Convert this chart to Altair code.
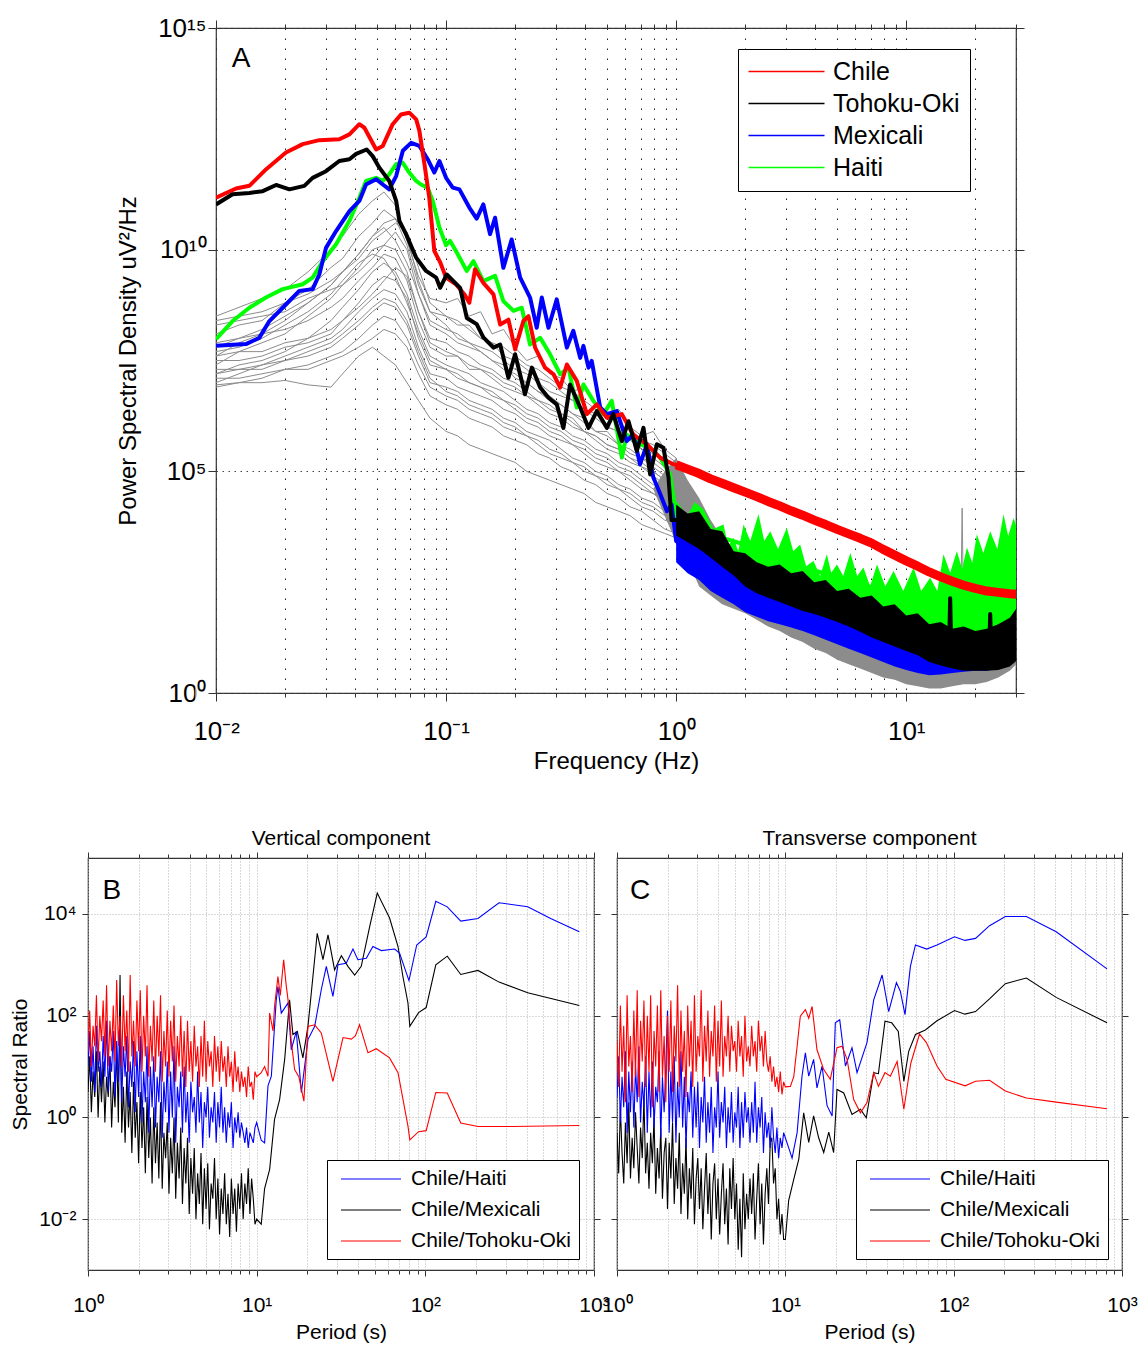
import altair as alt
import numpy as np
import pandas as pd

FONT = "Liberation Sans"

# ======================= Panel A : PSD  (values stored as log10) =======================
gray_logf = [-2.0, -1.9, -1.8, -1.7, -1.6, -1.5, -1.45, -1.38, -1.32, -1.27, -1.22, -1.17, -1.12, -1.07,
             -1.0, -0.95, -0.9, -0.85, -0.8, -0.75, -0.7, -0.65, -0.6, -0.55, -0.5, -0.45, -0.4, -0.35,
             -0.3, -0.25, -0.2, -0.15, -0.1, -0.05, 0.0]
gray_lines_logp = [
    [8.5, 8.7, 8.9, 9.1, 9.5, 10.0, 10.3, 10.8, 11.1, 11.3, 11.0, 10.2, 9.4, 8.9, 8.8, 8.9, 8.5, 8.6, 8.1, 8.2, 7.8, 7.5, 7.6, 7.2, 7.1, 6.8, 6.9, 6.5, 6.3, 6.4, 6.0, 5.8, 5.9, 5.5, 5.3],
    [8.1, 8.3, 8.4, 8.8, 9.1, 9.6, 9.8, 10.3, 10.6, 10.9, 10.7, 10.1, 9.2, 8.6, 8.5, 8.3, 8.3, 8.0, 7.9, 7.6, 7.5, 7.3, 7.1, 7.0, 6.8, 6.6, 6.4, 6.3, 6.0, 5.9, 5.8, 5.5, 5.4, 5.3, 5.1],
    [7.6, 7.9, 8.1, 8.4, 8.8, 9.2, 9.5, 9.9, 10.3, 10.5, 10.2, 9.7, 9.0, 8.3, 8.1, 7.9, 7.8, 7.7, 7.5, 7.4, 7.1, 7.0, 6.8, 6.7, 6.5, 6.3, 6.2, 5.9, 5.9, 5.6, 5.5, 5.3, 5.2, 5.0, 4.9],
    [7.4, 7.7, 7.9, 8.1, 8.5, 8.9, 9.2, 9.6, 10.0, 10.1, 10.0, 9.5, 8.6, 8.0, 7.9, 7.7, 7.6, 7.4, 7.3, 7.1, 7.0, 6.8, 6.6, 6.5, 6.3, 6.2, 5.9, 5.8, 5.6, 5.5, 5.3, 5.1, 5.0, 4.8, 4.7],
    [7.9, 8.0, 8.1, 8.2, 8.4, 8.7, 8.9, 9.3, 9.6, 9.9, 9.8, 9.3, 8.4, 7.8, 7.6, 7.6, 7.3, 7.3, 7.1, 6.9, 6.8, 6.7, 6.5, 6.3, 6.2, 6.0, 5.9, 5.7, 5.5, 5.4, 5.2, 5.1, 4.9, 4.7, 4.6],
    [7.2, 7.4, 7.5, 7.7, 8.0, 8.4, 8.7, 9.1, 9.5, 9.7, 9.5, 9.0, 8.2, 7.6, 7.4, 7.3, 7.2, 7.0, 6.9, 6.8, 6.6, 6.4, 6.3, 6.1, 6.0, 5.8, 5.7, 5.5, 5.4, 5.2, 5.1, 4.9, 4.7, 4.6, 4.4],
    [7.5, 7.5, 7.6, 7.8, 7.9, 8.1, 8.4, 8.8, 9.2, 9.4, 9.3, 8.9, 8.0, 7.4, 7.3, 7.1, 7.0, 6.9, 6.8, 6.6, 6.5, 6.3, 6.2, 6.0, 5.9, 5.7, 5.6, 5.4, 5.3, 5.1, 5.0, 4.8, 4.6, 4.5, 4.3],
    [7.0, 7.2, 7.4, 7.6, 7.8, 8.0, 8.2, 8.6, 8.9, 9.1, 9.0, 8.6, 7.8, 7.2, 7.1, 6.9, 6.8, 6.7, 6.6, 6.4, 6.3, 6.1, 6.0, 5.8, 5.7, 5.6, 5.4, 5.2, 5.1, 5.0, 4.8, 4.6, 4.5, 4.3, 4.2],
    [7.3, 7.3, 7.4, 7.5, 7.6, 7.8, 8.0, 8.3, 8.6, 8.8, 8.7, 8.3, 7.6, 7.0, 6.9, 6.8, 6.6, 6.5, 6.4, 6.2, 6.1, 5.9, 5.8, 5.7, 5.5, 5.3, 5.2, 5.0, 4.9, 4.7, 4.6, 4.4, 4.3, 4.1, 4.0],
    [6.9, 7.0, 7.1, 7.3, 7.4, 7.6, 7.7, 8.0, 8.3, 8.5, 8.4, 8.0, 7.4, 6.9, 6.7, 6.6, 6.4, 6.3, 6.2, 6.0, 5.9, 5.8, 5.6, 5.4, 5.3, 5.2, 5.0, 4.9, 4.7, 4.6, 4.4, 4.2, 4.1, 3.9, 3.8],
    [7.1, 7.1, 7.2, 7.3, 7.3, 7.5, 7.6, 7.8, 8.0, 8.2, 8.1, 7.8, 7.2, 6.7, 6.5, 6.4, 6.2, 6.1, 6.0, 5.8, 5.7, 5.6, 5.4, 5.3, 5.1, 5.0, 4.8, 4.7, 4.5, 4.4, 4.2, 4.1, 3.9, 3.7, 3.6],
    [6.95, 7.0, 7.0, 7.05, 6.95, 6.9, 7.2, 7.6, 7.8, 7.6, 7.4, 7.0, 6.6, 6.2, 5.9, 5.8, 5.6, 5.5, 5.4, 5.3, 5.2, 5.0, 4.9, 4.8, 4.7, 4.6, 4.5, 4.3, 4.2, 4.1, 4.0, 3.8, 3.7, 3.6, 3.5],
    [7.6, 7.7, 7.7, 7.9, 8.0, 8.2, 8.4, 8.7, 9.0, 9.3, 9.6, 9.4, 8.6, 7.9, 7.7, 7.6, 7.4, 7.3, 7.2, 7.0, 6.9, 6.7, 6.6, 6.4, 6.3, 6.1, 5.9, 5.8, 5.6, 5.5, 5.3, 5.2, 5.0, 4.8, 4.7],
    [8.3, 8.4, 8.5, 8.6, 8.9, 9.1, 9.2, 9.5, 9.8, 10.1, 10.4, 10.0, 9.0, 8.4, 8.2, 8.1, 7.9, 7.8, 7.7, 7.5, 7.3, 7.2, 7.0, 6.8, 6.7, 6.6, 6.4, 6.2, 6.0, 5.9, 5.7, 5.5, 5.3, 5.1, 5.0],
    [7.8, 8.0, 8.2, 8.5, 8.8, 9.2, 9.5, 9.9, 10.3, 10.6, 10.7, 10.3, 9.3, 8.6, 8.3, 8.0, 7.9, 7.7, 7.5, 7.3, 7.2, 7.0, 6.8, 6.6, 6.5, 6.3, 6.1, 5.9, 5.8, 5.6, 5.4, 5.3, 5.1, 4.9, 4.8],
    [7.2, 7.3, 7.3, 7.5, 7.7, 7.9, 8.1, 8.4, 8.7, 8.9, 8.8, 8.4, 7.7, 7.1, 6.8, 6.7, 6.5, 6.4, 6.3, 6.1, 6.0, 5.8, 5.7, 5.5, 5.4, 5.2, 5.1, 4.9, 4.8, 4.6, 4.5, 4.3, 4.2, 4.0, 3.9],
    [7.7, 7.8, 8.0, 8.3, 8.6, 9.0, 9.3, 9.7, 9.9, 9.8, 9.4, 8.8, 8.1, 7.5, 7.3, 7.2, 7.0, 6.9, 6.7, 6.6, 6.4, 6.2, 6.1, 5.9, 5.8, 5.6, 5.5, 5.3, 5.2, 5.0, 4.9, 4.7, 4.5, 4.4, 4.2],
    [8.4, 8.5, 8.6, 8.8, 9.0, 9.3, 9.5, 9.8, 10.2, 10.4, 10.6, 10.4, 9.6, 8.8, 8.5, 8.4, 8.2, 8.0, 7.9, 7.8, 7.6, 7.4, 7.3, 7.1, 6.9, 6.8, 6.6, 6.4, 6.3, 6.1, 5.9, 5.7, 5.6, 5.4, 5.2],
]
gray_spike_logf = [1.236, 1.243, 1.250]
gray_spike_logp = [1.4, 4.17, 1.4]

gray_band_logf = [-0.10, -0.05, 0.00, 0.05, 0.10, 0.15, 0.20, 0.25, 0.30, 0.35, 0.40, 0.45, 0.50, 0.55,
                  0.60, 0.65, 0.70, 0.75, 0.80, 0.85, 0.90, 0.95, 1.00, 1.05, 1.10, 1.15, 1.20, 1.25,
                  1.30, 1.35, 1.40, 1.45, 1.478]
gray_band_hi = [4.6, 5.0, 5.3, 4.8, 4.4, 3.9, 3.5, 3.1, 2.85, 2.7, 2.6, 2.5, 2.45, 2.4, 2.3, 2.2, 2.1,
                2.0, 1.9, 1.8, 1.7, 1.6, 1.5, 1.4, 1.3, 1.25, 1.2, 1.2, 1.2, 1.25, 1.4, 1.6, 1.75]
gray_band_lo = [4.6, 4.0, 3.4, 3.0, 2.4, 2.2, 2.0, 1.9, 1.8, 1.65, 1.5, 1.4, 1.25, 1.15, 1.0, 0.9, 0.75,
                0.65, 0.55, 0.45, 0.35, 0.3, 0.2, 0.15, 0.1, 0.1, 0.15, 0.2, 0.2, 0.25, 0.35, 0.5, 0.65]

# Chile (red)
chile_logf = [-2.0, -1.913, -1.855, -1.783, -1.696, -1.623, -1.551, -1.464, -1.420, -1.377, -1.355, -1.304,
              -1.275, -1.232, -1.196, -1.160, -1.130, -1.116, -1.094, -1.073, -1.051, -1.026, -1.0, -0.957,
              -0.920, -0.899, -0.874, -0.838, -0.794, -0.765, -0.729, -0.700, -0.664, -0.642, -0.613, -0.570,
              -0.533, -0.504, -0.475, -0.432, -0.388, -0.345, -0.301, -0.236, -0.186, -0.127, -0.070, -0.012]
chile_logp = [11.17, 11.38, 11.44, 11.81, 12.19, 12.38, 12.47, 12.49, 12.60, 12.83, 12.75, 12.26,
              12.34, 12.83, 13.05, 13.09, 12.94, 12.68, 11.93, 11.17, 9.97, 9.72, 9.37, 9.22,
              8.99, 8.80, 9.56, 9.25, 8.99, 8.31, 8.42, 7.75, 8.39, 8.50, 7.79, 7.34,
              7.19, 6.89, 7.41, 7.04, 6.29, 6.51, 6.21, 6.29, 5.83, 5.61, 5.31, 5.16]
hf_logf = [0.00, 0.05, 0.10, 0.15, 0.20, 0.25, 0.30, 0.35, 0.40, 0.45, 0.50, 0.55, 0.60, 0.65, 0.70,
           0.75, 0.80, 0.85, 0.90, 0.95, 1.00, 1.05, 1.10, 1.15, 1.20, 1.25, 1.30, 1.35, 1.40, 1.45, 1.478]
chile_hf_logp = [5.15, 5.05, 4.95, 4.83, 4.73, 4.63, 4.53, 4.43, 4.32, 4.22, 4.11, 4.01, 3.90, 3.80, 3.69,
                 3.59, 3.49, 3.38, 3.24, 3.11, 2.98, 2.86, 2.73, 2.62, 2.52, 2.43, 2.36, 2.30, 2.27, 2.24, 2.23]

# Tohoku-Oki (black)
tohoku_logf = [-2.0, -1.928, -1.855, -1.797, -1.739, -1.681, -1.616, -1.580, -1.522, -1.464, -1.420, -1.391,
               -1.345, -1.319, -1.290, -1.247, -1.217, -1.203, -1.174, -1.130, -1.087, -1.043, -1.026, -0.997,
               -0.939, -0.910, -0.867, -0.838, -0.794, -0.765, -0.729, -0.700, -0.657, -0.627, -0.591, -0.555,
               -0.519, -0.490, -0.461, -0.417, -0.381, -0.345, -0.301, -0.273, -0.236, -0.207, -0.171, -0.142,
               -0.113, -0.084, -0.055, -0.033, -0.02, 0.0, 0.05, 0.104, 0.2, 0.322, 0.45, 0.539, 0.683, 0.8,
               0.974, 1.117, 1.186, 1.191, 1.196, 1.265, 1.360, 1.365, 1.370, 1.409, 1.478]
tohoku_logp = [11.02, 11.25, 11.28, 11.32, 11.46, 11.36, 11.44, 11.62, 11.77, 12.0, 12.04, 12.16,
               12.26, 12.11, 11.85, 11.55, 11.10, 10.65, 10.35, 9.82, 9.52, 9.37, 9.14, 9.44,
               9.14, 8.46, 8.32, 8.02, 7.79, 7.86, 7.11, 7.64, 6.74, 7.34, 6.89, 6.66,
               6.51, 5.98, 6.96, 6.44, 5.98, 6.36, 5.98, 6.29, 5.68, 6.13, 5.46, 5.98,
               4.93, 5.61, 5.53, 4.86, 3.9, 3.9, 3.75, 3.61, 3.2, 2.68, 2.45, 2.3, 1.94, 1.75,
               1.44, 1.04, 1.0, 2.14, 1.0, 0.92, 0.92, 1.78, 0.92, 0.92, 1.28]
tohoku_hf_hi = [4.25, 4.05, 4.10, 3.70, 3.65, 3.20, 3.15, 2.95, 2.85, 2.90, 2.70, 2.75, 2.50, 2.55, 2.30,
                2.35, 2.15, 2.20, 1.95, 2.00, 1.75, 1.80, 1.55, 1.60, 1.45, 1.50, 1.40, 1.45, 1.55, 1.70, 1.90]
tohoku_hf_lo = [3.55, 3.40, 3.25, 3.05, 2.85, 2.65, 2.40, 2.25, 2.15, 2.05, 1.95, 1.85, 1.78, 1.70, 1.60,
                1.50, 1.38, 1.25, 1.15, 1.05, 0.95, 0.85, 0.70, 0.62, 0.55, 0.50, 0.50, 0.50, 0.52, 0.60, 0.72]

# Mexicali (blue)
mexicali_logf = [-2.0, -1.870, -1.812, -1.768, -1.710, -1.638, -1.580, -1.551, -1.522, -1.478, -1.420, -1.377,
                 -1.348, -1.304, -1.275, -1.247, -1.217, -1.188, -1.152, -1.116, -1.080, -1.051, -1.029, -1.0,
                 -0.971, -0.942, -0.899, -0.867, -0.838, -0.809, -0.787, -0.751, -0.715, -0.678, -0.635, -0.606,
                 -0.584, -0.555, -0.519, -0.475, -0.447, -0.417, -0.403, -0.381, -0.367, -0.330, -0.301, -0.258,
                 -0.215, -0.186, -0.157, -0.127, -0.099, -0.07, -0.04, -0.02, 0.0, 0.05, 0.104, 0.2, 0.322,
                 0.539, 0.757, 0.974, 1.117, 1.265, 1.409, 1.478]
mexicali_logp = [7.83, 7.87, 8.01, 8.39, 8.69, 9.07, 9.11, 9.44, 10.04, 10.42, 10.87, 11.10,
                 11.47, 11.59, 11.47, 11.36, 11.66, 12.23, 12.41, 12.34, 12.04, 11.74, 12.0, 11.62,
                 11.40, 11.36, 10.95, 10.70, 11.02, 10.35, 10.72, 9.59, 10.23, 9.37, 8.92, 8.24,
                 8.92, 8.24, 8.88, 7.79, 8.17, 7.56, 7.83, 7.34, 7.49, 6.44, 6.29, 6.36,
                 5.68, 5.83, 5.16, 5.61, 4.86, 4.5, 4.1, 4.25, 3.43, 3.2, 2.98, 2.5, 2.07,
                 1.74, 1.40, 0.95, 0.72, 0.72, 0.83, 1.17]
mexicali_hf_hi = [3.95, 3.80, 3.65, 3.45, 3.25, 3.05, 2.80, 2.65, 2.55, 2.45, 2.35, 2.25, 2.18, 2.10, 2.00,
                  1.90, 1.78, 1.65, 1.55, 1.45, 1.35, 1.25, 1.10, 1.02, 0.95, 0.90, 0.90, 0.92, 1.00, 1.15, 1.45]
mexicali_hf_lo = [2.95, 2.70, 2.55, 2.30, 2.15, 2.00, 1.82, 1.72, 1.62, 1.55, 1.48, 1.40, 1.30, 1.20, 1.10,
                  1.00, 0.90, 0.80, 0.70, 0.60, 0.52, 0.45, 0.40, 0.42, 0.45, 0.48, 0.50, 0.50, 0.55, 0.62, 0.75]

# Haiti (green)
haiti_logf = [-2.0, -1.928, -1.855, -1.783, -1.710, -1.623, -1.580, -1.536, -1.478, -1.420, -1.377, -1.348,
              -1.304, -1.275, -1.247, -1.217, -1.188, -1.160, -1.130, -1.109, -1.080, -1.058, -1.029, -1.0,
              -0.983, -0.957, -0.910, -0.881, -0.838, -0.787, -0.751, -0.707, -0.671, -0.635, -0.591, -0.548,
              -0.504, -0.468, -0.432, -0.403, -0.360, -0.316, -0.280, -0.236, -0.215, -0.157, -0.113, -0.070,
              -0.026, 0.0, 0.104, 0.322, 0.539, 0.757, 0.974, 1.117, 1.265, 1.409, 1.478]
haiti_logp = [7.98, 8.39, 8.69, 8.92, 9.11, 9.22, 9.37, 9.74, 10.12, 10.65, 11.17, 11.55,
              11.62, 11.55, 11.70, 11.93, 11.96, 11.74, 11.55, 11.47, 11.40, 11.10, 10.50, 10.10,
              10.20, 9.97, 9.52, 9.74, 9.29, 9.41, 8.84, 8.62, 8.69, 7.86, 8.01, 7.64,
              7.19, 7.34, 6.44, 6.96, 6.59, 6.29, 6.59, 5.31, 5.83, 5.61, 5.53, 5.31,
              4.93, 4.0, 3.65, 3.31, 2.86, 2.53, 2.19, 2.07, 2.30, 2.86, 2.98]
haiti_band_logf = [0.0, 0.05, 0.08, 0.119, 0.161, 0.206, 0.226, 0.249, 0.270, 0.293, 0.322, 0.358, 0.383,
                   0.409, 0.443, 0.481, 0.509, 0.539, 0.565, 0.597, 0.626, 0.655, 0.674, 0.699, 0.726,
                   0.757, 0.787, 0.814, 0.843, 0.873, 0.909, 0.945, 0.987, 1.032, 1.065, 1.104, 1.135,
                   1.162, 1.191, 1.220, 1.243, 1.264, 1.287, 1.307, 1.335, 1.365, 1.396, 1.423, 1.443,
                   1.467, 1.478]
haiti_band_hi = [4.33, 4.0, 4.3, 4.14, 3.70, 3.80, 3.31, 3.50, 3.20, 3.80, 3.43, 4.03, 3.43, 3.65, 3.25,
                 3.73, 3.20, 3.35, 2.86, 2.98, 2.64, 3.13, 2.71, 2.90, 2.64, 3.16, 2.64, 2.83, 2.41, 2.90,
                 2.41, 2.75, 2.30, 2.83, 2.30, 2.60, 2.30, 3.13, 2.71, 3.20, 2.80, 3.28, 2.93, 3.58, 3.16,
                 3.65, 3.25, 4.03, 3.54, 3.95, 3.77]
haiti_band_lo = [3.9, 3.75, 3.65, 3.55, 3.40, 3.25, 3.15, 3.05, 2.95, 2.85, 2.75, 2.65, 2.60, 2.55, 2.45,
                 2.40, 2.35, 2.30, 2.25, 2.20, 2.15, 2.10, 2.05, 2.00, 1.95, 1.90, 1.85, 1.80, 1.75, 1.70,
                 1.60, 1.55, 1.45, 1.35, 1.25, 1.15, 1.10, 1.05, 1.05, 1.00, 1.00, 1.00, 1.00, 1.00, 1.00,
                 1.00, 1.05, 1.10, 1.20, 1.25, 1.30]

A_events = ["Chile", "Tohoku-Oki", "Mexicali", "Haiti"]
A_colors = ["#ff0000", "#000000", "#0000ff", "#00ff00"]
A_x_decades = [-2, -1, 0, 1]
A_y_decades = [0, 5, 10, 15]
A_panel_label = ("A", -1.891, 14.30)

# ======================= Panels B, C : spectral ratios (log10) =======================
noisy_logT = [0.00, 0.01, 0.02, 0.03, 0.04, 0.05, 0.06, 0.07, 0.08, 0.09,
              0.10, 0.11, 0.12, 0.13, 0.14, 0.15, 0.16, 0.17, 0.18, 0.19,
              0.20, 0.21, 0.22, 0.23, 0.24, 0.25, 0.26, 0.27, 0.28, 0.29,
              0.30, 0.31, 0.32, 0.33, 0.34, 0.35, 0.36, 0.37, 0.38, 0.39,
              0.40, 0.41, 0.42, 0.43, 0.44, 0.45, 0.46, 0.47, 0.48, 0.49,
              0.50, 0.51, 0.52, 0.53, 0.54, 0.55, 0.56, 0.57, 0.58, 0.59,
              0.60, 0.61, 0.62, 0.63, 0.64, 0.65, 0.66, 0.67, 0.68, 0.69,
              0.70, 0.71, 0.72, 0.73, 0.74, 0.75, 0.76, 0.77, 0.78, 0.79,
              0.80, 0.81, 0.82, 0.83, 0.84, 0.85, 0.86, 0.87, 0.88, 0.89,
              0.90, 0.91, 0.92, 0.93, 0.94, 0.95, 0.96, 0.97, 0.98, 0.99, 1.00]

B_tohoku_noisy = [1.3, 2.1, 1.0, 1.8, 1.4, 2.4, 1.1, 2.0, 1.5, 2.3,
                  1.2, 2.6, 1.0, 1.9, 1.3, 2.2, 1.1, 2.7, 1.4, 2.0,
                  1.0, 2.4, 1.3, 2.1, 0.9, 2.8, 1.2, 1.9, 1.0, 2.3,
                  1.3, 2.5, 0.9, 2.0, 1.2, 2.6, 0.8, 1.8, 1.1, 2.3,
                  0.9, 2.0, 1.2, 2.4, 0.7, 1.7, 1.0, 2.1, 0.8, 1.9,
                  1.1, 2.2, 0.7, 1.6, 1.0, 2.0, 0.8, 1.7, 0.6, 1.9,
                  0.9, 1.5, 0.7, 1.8, 1.0, 1.4, 0.6, 1.6, 0.8, 1.9,
                  0.7, 1.5, 1.0, 1.3, 0.6, 1.6, 0.9, 1.4, 0.7, 1.5,
                  0.9, 1.2, 0.6, 1.4, 0.8, 1.1, 0.5, 1.3, 0.7, 1.0,
                  0.5, 0.9, 0.6, 0.8, 0.4, 1.0, 0.6, 0.7, 0.35, 0.9, 0.8]
B_tohoku_tail_logT = [1.027, 1.047, 1.067, 1.077, 1.097, 1.106, 1.126, 1.14, 1.160, 1.175, 1.186, 1.205, 1.225,
                      1.250, 1.280, 1.304, 1.344, 1.383, 1.452, 1.512, 1.561, 1.585, 1.610, 1.660, 1.709, 1.788,
                      1.838, 1.897, 1.908, 1.960, 2.005, 2.062, 2.130, 2.210, 2.312, 2.516, 2.913]
B_tohoku_tail = [0.88, 1.0, 0.81, 2.05, 1.7, 2.18, 2.77, 2.4, 3.10, 2.6, 2.31, 1.5, 0.94,
                 0.8, 0.32, 1.79, 1.82, 1.66, 0.71, 1.57, 1.54, 1.6, 1.82, 1.27, 1.35, 1.17,
                 0.88, -0.17, -0.44, -0.28, -0.26, 0.49, 0.48, -0.11, -0.18, -0.18, -0.16]
B_haiti_noisy = [1.0, 1.7, 0.7, 1.4, 0.5, 1.8, 0.9, 1.3, 0.6, 1.6,
                 0.8, 1.9, 0.5, 1.2, 0.9, 1.7, 0.4, 1.5, 0.7, 1.8,
                 0.3, 1.4, 0.8, 1.6, 0.2, 1.1, 0.6, 1.5, 0.1, 1.3,
                 0.4, 1.6, -0.1, 0.9, 0.3, 1.4, -0.3, 1.0, 0.2, 1.2,
                 -0.2, 0.8, 0.3, 1.3, -0.4, 0.7, 0.1, 1.1, -0.3, 0.9,
                 0.0, 1.4, -0.5, 0.6, 0.2, 0.9, -0.3, 1.0, -0.1, 0.5,
                 -0.5, 0.7, 0.1, 0.4, -0.3, 0.9, -0.1, 0.5, -0.6, 0.3,
                 0.0, 0.6, -0.4, 0.2, -0.1, 0.5, -0.5, 0.3, -0.2, 0.6,
                 -0.3, 0.2, -0.5, 0.1, -0.2, 0.3, -0.6, 0.0, -0.3, 0.1,
                 -0.4, -0.1, -0.3, -0.5, -0.2, -0.6, -0.3, -0.4, -0.5, -0.2, -0.1]
B_haiti_tail_logT = [1.027, 1.047, 1.067, 1.087, 1.116, 1.126, 1.146, 1.186, 1.205, 1.235, 1.265, 1.304, 1.344,
                     1.383, 1.413, 1.452, 1.482, 1.531, 1.571, 1.600, 1.650, 1.689, 1.739, 1.818, 1.847, 1.903,
                     1.949, 2.005, 2.062, 2.130, 2.210, 2.312, 2.437, 2.607, 2.743, 2.913]
B_haiti_tail = [-0.45, -0.5, 0.62, 0.81, 2.31, 2.57, 2.05, 2.25, 1.33, 1.69, 0.49, 1.53, 1.79,
                2.51, 2.97, 2.38, 3.0, 3.03, 3.31, 3.10, 3.13, 3.36, 3.28, 3.31, 3.23, 2.69,
                3.39, 3.55, 4.25, 4.14, 3.86, 3.91, 4.22, 4.14, 3.91, 3.65]
B_mexicali_noisy = [0.5, 1.2, 0.1, 0.9, 0.4, 1.3, 0.0, 1.0, 0.3, 1.1,
                    -0.1, 0.8, 0.4, 1.2, -0.2, 0.7, 0.2, 1.4, -0.1, 2.8,
                    -0.3, 0.6, -0.5, 0.9, -0.2, 0.5, -0.7, 0.7, -0.4, 0.3,
                    -0.9, 0.5, -0.6, 0.2, -1.1, 0.4, -0.8, 0.0, -1.3, 0.2,
                    -0.9, -0.1, -1.2, 0.3, -1.4, -0.3, -0.8, -0.1, -1.5, -0.4,
                    -1.1, 0.0, -1.6, -0.5, -1.2, -0.2, -1.7, -0.6, -1.3, -0.4,
                    -1.9, -0.8, -1.5, -0.6, -2.0, -1.1, -1.7, -0.7, -2.1, -1.0,
                    -1.8, -0.9, -2.2, -1.3, -1.6, -0.8, -2.0, -1.2, -2.3, -1.4,
                    -1.9, -1.1, -2.1, -1.5, -2.35, -1.2, -1.9, -1.4, -2.25, -1.3,
                    -1.8, -1.1, -2.0, -1.3, -1.7, -1.0, -1.9, -1.2, -1.6, -2.1, -2.0]
B_mexicali_tail_logT = [1.027, 1.047, 1.077, 1.106, 1.136, 1.166, 1.195, 1.215, 1.241, 1.274, 1.304, 1.324, 1.359,
                        1.393, 1.423, 1.462, 1.502, 1.541, 1.581, 1.620, 1.670, 1.715, 1.788, 1.838, 1.867, 1.897,
                        1.908, 1.960, 2.005, 2.062, 2.130, 2.210, 2.312, 2.437, 2.607, 2.913]
B_mexicali_tail = [-2.1, -1.4, -1.02, -0.04, 0.35, 1.14, 2.31, 1.63, 1.69, 1.17, 1.79, 2.45, 3.62,
                   3.10, 3.59, 2.90, 3.18, 2.97, 2.80, 2.97, 3.75, 4.41, 3.92, 3.36, 2.77, 2.25,
                   1.79, 2.06, 2.16, 3.0, 3.17, 2.81, 2.89, 2.66, 2.45, 2.20]

C_tohoku_noisy = [1.5, 0.6, 2.2, 0.9, 1.8, 0.3, 2.4, 1.0, 1.6, 0.5,
                  2.1, 0.8, 2.5, 0.4, 1.9, 1.1, 2.3, 0.6, 2.0, 0.9,
                  2.4, 0.2, 1.7, 1.0, 2.2, 0.5, 2.5, 0.8, 1.6, 0.3,
                  2.0, 0.9, 2.3, 0.5, 1.8, 1.1, 2.6, 0.6, 2.1, 0.9,
                  1.7, 0.4, 2.2, 1.0, 1.9, 0.6, 2.4, 0.9, 1.6, 1.2,
                  2.5, 0.7, 1.8, 1.1, 2.1, 0.8, 1.7, 1.2, 2.2, 0.7,
                  1.9, 1.0, 2.3, 0.8, 1.6, 1.2, 2.0, 0.9, 1.8, 1.3,
                  1.5, 0.9, 1.9, 1.2, 1.6, 0.8, 2.0, 1.1, 1.4, 1.0,
                  1.8, 1.2, 1.5, 0.9, 1.9, 1.3, 1.6, 1.0, 1.7, 1.1,
                  0.9, 1.2, 0.7, 1.0, 0.6, 0.8, 0.5, 0.9, 0.45, 0.7, 0.6]
C_tohoku_tail_logT = [1.030, 1.050, 1.070, 1.089, 1.119, 1.139, 1.159, 1.188, 1.228, 1.267, 1.307, 1.337, 1.367,
                      1.406, 1.446, 1.485, 1.525, 1.553, 1.592, 1.624, 1.664, 1.704, 1.745, 1.797, 1.838, 1.901,
                      1.953, 2.068, 2.130, 2.213, 2.307, 2.432, 2.609, 2.911]
C_tohoku_tail = [0.61, 0.8, 1.40, 1.99, 2.12, 1.95, 2.18, 1.33, 0.94, 0.75, 1.37, 1.40, 1.14,
                 0.35, 0.09, 0.29, 0.88, 0.61, 0.88, 0.81, 1.10, 0.16, 1.06, 1.64, 1.47, 1.01,
                 0.75, 0.62, 0.71, 0.73, 0.52, 0.38, 0.30, 0.17]
C_haiti_noisy = [0.4, 1.2, -0.1, 0.8, 0.2, 1.3, -0.3, 0.9, 0.1, 1.1,
                 -0.2, 1.0, 0.3, 1.4, -0.1, 0.7, 0.2, 1.2, -0.3, 0.9,
                 0.0, 1.1, -0.2, 0.6, 0.3, 1.3, -0.4, 0.8, 0.1, 1.0,
                 2.1, -0.3, 0.9, -0.1, 1.2, -0.5, 0.7, 0.0, 1.3, -0.2,
                 0.8, -0.6, 0.5, 0.1, 0.9, -0.4, 0.6, -0.2, 0.7, -0.6,
                 0.4, -0.1, 0.8, -0.5, 0.3, -0.3, 0.6, -0.7, 0.2, -0.2,
                 0.9, -0.4, 0.3, -0.1, 0.6, -0.6, 0.2, -0.3, 0.5, -0.5,
                 0.1, -0.2, 0.6, -0.6, 0.3, -0.4, 0.5, -0.1, 0.2, -0.5,
                 0.3, -0.3, 0.7, -0.5, 0.2, -0.2, 0.4, -0.7, 0.1, -0.4,
                 -0.1, -0.6, 0.2, -0.4, -0.7, -0.2, -0.8, -0.4, -0.6, -0.3, -0.4]
C_haiti_tail_logT = [1.020, 1.040, 1.070, 1.099, 1.119, 1.139, 1.168, 1.188, 1.218, 1.248, 1.278, 1.297, 1.323,
                     1.357, 1.396, 1.426, 1.485, 1.525, 1.575, 1.614, 1.660, 1.683, 1.711, 1.743, 1.773, 1.840,
                     1.901, 2.005, 2.067, 2.130, 2.213, 2.307, 2.432, 2.609, 2.911]
C_haiti_tail = [-0.6, -0.8, -0.30, 0.81, 1.27, 0.81, 1.14, 0.58, 1.01, 0.23, 0.03, 1.86, 1.92,
                1.01, 1.37, 0.88, 1.47, 2.31, 2.80, 2.08, 2.65, 2.48, 2.02, 2.97, 3.39, 3.31,
                3.39, 3.55, 3.48, 3.52, 3.77, 3.95, 3.95, 3.65, 2.92]
C_mexicali_noisy = [-0.3, -1.1, 0.2, -0.7, -1.3, -0.1, -0.9, 0.3, -1.2, -0.4,
                    -1.0, 0.1, -0.6, -1.3, -0.2, -0.8, 0.4, -1.1, -0.5, -1.4,
                    -0.3, -0.9, 0.0, -1.5, -0.6, -1.2, -0.2, -1.6, -0.7, -0.4,
                    -1.8, -0.5, -1.2, -0.1, -1.7, -0.8, -1.4, -0.3, -1.9, -0.9,
                    -1.5, -0.4, -2.0, -1.0, -1.6, -0.6, -2.1, -1.2, -0.8, -1.8,
                    -1.0, -2.2, -1.4, -0.7, -1.9, -1.1, -2.4, -1.3, -0.9, -2.0,
                    -1.2, -2.3, -1.5, -0.9, -2.1, -1.4, -2.5, -1.0, -1.8, -0.8,
                    -2.0, -1.3, -2.6, -1.6, -2.75, -1.1, -2.2, -1.5, -2.0, -1.2,
                    -1.9, -1.1, -2.4, -1.6, -0.9, -2.1, -1.3, -2.5, -1.5, -1.0,
                    -1.7, -0.5, -0.4, -1.3, -1.0, -2.0, -1.6, -2.3, -1.9, -2.4, -2.4]
C_mexicali_tail_logT = [1.020, 1.050, 1.080, 1.109, 1.139, 1.168, 1.198, 1.228, 1.258, 1.287, 1.307, 1.347, 1.396,
                        1.446, 1.481, 1.525, 1.553, 1.592, 1.632, 1.671, 1.704, 1.733, 1.773, 1.832, 1.901, 2.005,
                        2.067, 2.130, 2.213, 2.307, 2.432, 2.609, 2.911]
C_mexicali_tail = [-1.63, -1.22, -0.82, 0.09, -0.49, 0.03, -0.40, -0.69, -0.29, -0.69, 0.55, 0.48, 0.06,
                   0.16, -0.01, 0.88, 0.86, 1.89, 1.86, 1.69, 0.71, 1.30, 1.63, 1.72, 1.90, 2.10,
                   2.03, 2.08, 2.33, 2.63, 2.74, 2.36, 1.86]

R_pairs = ["Chile/Haiti", "Chile/Mexicali", "Chile/Tohoku-Oki"]
R_colors = ["#0000ff", "#000000", "#ff0000"]
R_x_decades = [0, 1, 2, 3]
R_y_decades = [-2, 0, 2, 4]
B_panel_label = ("B", 0.142, 4.45)
C_panel_label = ("C", 0.137, 4.45)

# ======================= helpers =======================
SUP = str.maketrans("-0123456789", "⁻⁰¹²³⁴⁵⁶⁷⁸⁹")
MAJOR = "abs(log(datum.value)/LN10 - round(log(datum.value)/LN10)) < 0.01"


def label_expr(decades):
    expr = "''"
    for d in reversed(decades):
        expr = f"(abs(log(datum.value)/LN10 - ({d})) < 0.01 ? '10{str(d).translate(SUP)}' : {expr})"
    return expr


def log_ticks(decades, top):
    return [m * 10.0 ** d for d in decades for m in range(1, 10) if m * 10.0 ** d <= top * 1.0001]


def tick_cond(major, minor):
    return {"condition": {"test": MAJOR, "value": major}, "value": minor}


def pw(v):
    return np.power(10.0, np.array(v, dtype=float))


# ======================= Panel A =======================
gray_df = pd.concat(
    [pd.DataFrame({"f": pw(gray_logf), "p": pw(lp), "id": f"g{i}"}) for i, lp in enumerate(gray_lines_logp)]
    + [pd.DataFrame({"f": pw(gray_spike_logf), "p": pw(gray_spike_logp), "id": "spike"})],
    ignore_index=True)
gray_band_df = pd.DataFrame({"f": pw(gray_band_logf), "lo": pw(gray_band_lo), "hi": pw(gray_band_hi)})


def ev_df(lf, lp, name):
    return pd.DataFrame({"f": pw(lf), "p": pw(lp), "event": name})


def band_df(lf, lo, hi):
    return pd.DataFrame({"f": pw(lf), "lo": pw(lo), "hi": pw(hi)})


XA = alt.Scale(type="log", domain=[0.01, 30], nice=False)
YA = alt.Scale(type="log", domain=[1, 1e15], nice=False)
A_xvals = log_ticks(A_x_decades, 30)
A_yvals = [10.0 ** d for d in A_y_decades]

ax_A_x = alt.Axis(values=A_xvals, labelExpr=label_expr(A_x_decades), tickSize=tick_cond(8, 4),
                  tickColor="#333", grid=True, gridColor="#222", gridDash=[1.5, 8.5], gridWidth=1,
                  domain=False, labelFont=FONT, labelFontSize=26, labelColor="black", labelPadding=17,
                  labelOverlap=False, labelFlush=False, title="Frequency (Hz)", titleFont=FONT,
                  titleFontSize=24, titleFontWeight="normal", titleColor="black", titlePadding=5)
ax_A_y = alt.Axis(values=A_yvals, labelExpr=label_expr(A_y_decades), tickSize=8, tickColor="#333",
                  grid=True, gridColor="#444", gridDash=[1.5, 4.5], domain=False, labelFont=FONT,
                  labelFontSize=26, labelColor="black", labelPadding=2, labelOverlap=False,
                  title="Power Spectral Density uV²/Hz", titleFont=FONT, titleFontSize=24,
                  titleFontWeight="normal", titleColor="black", titlePadding=17)
ax_A_top = alt.Axis(orient="top", values=A_xvals, labels=False, tickSize=tick_cond(8, 4), tickColor="#333",
                    grid=False, domain=False, title=None)
ax_A_right = alt.Axis(orient="right", values=A_yvals, labels=False, tickSize=8, tickColor="#333",
                      grid=False, domain=False, title=None)

colA = alt.Scale(domain=A_events, range=A_colors)
legA = alt.Legend(title=None, orient="none", legendX=522, legendY=21, symbolType="M-3.8,0L3.8,0",
                  symbolSize=400, symbolStrokeWidth=1.5, symbolOffset=26, labelOffset=34,
                  labelFont=FONT, labelFontSize=25, labelColor="black", padding=10, rowPadding=6,
                  strokeColor="black", fillColor="white", labelLimit=400)


def A_line(df, width=4):
    return alt.Chart(df).mark_line(strokeWidth=width, clip=True, strokeJoin="round").encode(
        x=alt.X("f:Q", scale=XA, axis=None), y=alt.Y("p:Q", scale=YA, axis=None),
        color=alt.Color("event:N", scale=colA, legend=legA))


def A_band(df, color):
    return alt.Chart(df).mark_area(color=color, clip=True).encode(
        x=alt.X("f:Q", scale=XA, axis=None), y=alt.Y("lo:Q", scale=YA, axis=None), y2="hi:Q")


layer_gray = alt.Chart(gray_df).mark_line(color="#8c8c8c", strokeWidth=1, clip=True).encode(
    x=alt.X("f:Q", scale=XA, axis=ax_A_x), y=alt.Y("p:Q", scale=YA, axis=ax_A_y), detail="id:N")
layer_mirror_A = alt.Chart(gray_df).mark_line(strokeOpacity=0).encode(
    x=alt.X("f:Q", scale=XA, axis=ax_A_top), y=alt.Y("p:Q", scale=YA, axis=ax_A_right), detail="id:N")
label_A = alt.Chart(pd.DataFrame({"f": pw([A_panel_label[1]]), "p": pw([A_panel_label[2]]),
                                  "t": [A_panel_label[0]]})).mark_text(
    font=FONT, fontSize=28, color="black").encode(
    x=alt.X("f:Q", scale=XA, axis=None), y=alt.Y("p:Q", scale=YA, axis=None), text="t:N")
# invisible white rule: fixes the top and bottom extent of panel A for the layout
anchor_A = alt.Chart(pd.DataFrame({"a": [0]})).mark_rule(color="white").encode(
    x=alt.value(-20), y=alt.value(-26), y2=alt.value(765))

chartA = alt.layer(
    layer_gray,
    A_band(gray_band_df, "#8c8c8c"),
    A_band(band_df(haiti_band_logf, haiti_band_lo, haiti_band_hi), "#00ff00"),
    A_line(ev_df(haiti_logf, haiti_logp, "Haiti")),
    A_band(band_df(hf_logf, mexicali_hf_lo, mexicali_hf_hi), "#0000ff"),
    A_line(ev_df(mexicali_logf, mexicali_logp, "Mexicali")),
    A_line(ev_df(chile_logf + hf_logf, chile_logp + chile_hf_logp, "Chile")),
    A_line(ev_df(hf_logf, chile_hf_logp, "Chile"), width=9),
    A_band(band_df(hf_logf, tohoku_hf_lo, tohoku_hf_hi), "#000000"),
    A_line(ev_df(tohoku_logf, tohoku_logp, "Tohoku-Oki")),
    layer_mirror_A,
    label_A,
    anchor_A,
).resolve_axis(x="independent", y="independent").properties(width=800, height=665)

# blank spacer that shifts panel A to the right of panels B/C
spacer = alt.Chart(pd.DataFrame({"a": [0]})).mark_point(opacity=0).encode(
    x=alt.value(0), y=alt.value(0)).properties(width=100, height=665,
                                               view=alt.ViewBackground(stroke="transparent"))
rowA = alt.hconcat(spacer, chartA, spacing=28, bounds="flush").resolve_scale(color="independent")

# ======================= Panels B and C =======================
XR = alt.Scale(type="log", domain=[1, 1000], nice=False)
YR = alt.Scale(type="log", domain=[1e-3, 10 ** 5.1], nice=False)
R_xvals = log_ticks(R_x_decades, 1000)
R_yvals = [10.0 ** d for d in R_y_decades]
colR = alt.Scale(domain=R_pairs, range=R_colors)


def r_df(noisy, tail_lT, tail, name):
    return pd.DataFrame({"T": pw(noisy_logT + tail_lT), "r": pw(noisy + tail), "pair": name})


def ratio_panel(title, series, panel_label, show_ylabels, width):
    ax_x = alt.Axis(values=R_xvals, labelExpr=label_expr(R_x_decades), tickSize=tick_cond(6, 4),
                    tickColor="#333", grid=True, gridColor="#b4b4b4", gridDash=[1, 2], domain=False,
                    labelFont=FONT, labelFontSize=21, labelColor="black", labelPadding=18,
                    labelOverlap=False, labelFlush=False, title="Period (s)", titleFont=FONT,
                    titleFontSize=21, titleFontWeight="normal", titleColor="black", titlePadding=6)
    if show_ylabels:
        ax_y = alt.Axis(values=R_yvals, labelExpr=label_expr(R_y_decades), tickSize=6, tickColor="#333",
                        grid=True, gridColor="#b4b4b4", gridDash=[1, 2], domain=False, labelFont=FONT,
                        labelFontSize=21, labelColor="black", labelPadding=6, labelOverlap=False,
                        title="Spectral Ratio", titleFont=FONT, titleFontSize=21,
                        titleFontWeight="normal", titleColor="black", titlePadding=8)
    else:
        ax_y = alt.Axis(values=R_yvals, labels=False, tickSize=6, tickColor="#333", grid=True,
                        gridColor="#b4b4b4", gridDash=[1, 2], domain=False, title=None)
    ax_top = alt.Axis(orient="top", values=R_xvals, labels=False, tickSize=tick_cond(6, 4),
                      tickColor="#333", grid=False, domain=False, title=None)
    ax_right = alt.Axis(orient="right", values=R_yvals, labels=False, tickSize=6, tickColor="#333",
                        grid=False, domain=False, title=None)
    leg = alt.Legend(title=None, orient="none", legendX=239, legendY=302, symbolType="M-3,0L3,0",
                     symbolSize=400, symbolStrokeWidth=1.2, symbolOffset=25, labelOffset=29,
                     labelFont=FONT, labelFontSize=21, labelColor="black", padding=8, rowPadding=10,
                     strokeColor="black", fillColor="white", labelLimit=400)
    layers = []
    for i, df in enumerate(series):
        layers.append(alt.Chart(df).mark_line(strokeWidth=1.1, clip=True).encode(
            x=alt.X("T:Q", scale=XR, axis=ax_x if i == 0 else None),
            y=alt.Y("r:Q", scale=YR, axis=ax_y if i == 0 else None),
            color=alt.Color("pair:N", scale=colR, legend=leg)))
    layers.append(alt.Chart(series[0]).mark_line(strokeOpacity=0).encode(
        x=alt.X("T:Q", scale=XR, axis=ax_top), y=alt.Y("r:Q", scale=YR, axis=ax_right)))
    layers.append(alt.Chart(pd.DataFrame({"T": pw([panel_label[1]]), "r": pw([panel_label[2]]),
                                          "t": [panel_label[0]]})).mark_text(
        font=FONT, fontSize=28, color="black").encode(
        x=alt.X("T:Q", scale=XR, axis=None), y=alt.Y("r:Q", scale=YR, axis=None), text="t:N"))
    if show_ylabels:
        # invisible white rule: fixes the left extent of the lower row
        layers.append(alt.Chart(pd.DataFrame({"a": [0]})).mark_rule(color="white").encode(
            x=alt.value(-86), y=alt.value(200), y2=alt.value(210)))
    return alt.layer(*layers).resolve_axis(x="independent", y="independent").properties(
        width=width, height=412,
        title=alt.TitleParams(title, font=FONT, fontSize=21, fontWeight="normal", color="black", offset=3))


seriesB = [
    r_df(B_mexicali_noisy, B_mexicali_tail_logT, B_mexicali_tail, "Chile/Mexicali"),
    r_df(B_haiti_noisy, B_haiti_tail_logT, B_haiti_tail, "Chile/Haiti"),
    r_df(B_tohoku_noisy, B_tohoku_tail_logT, B_tohoku_tail, "Chile/Tohoku-Oki"),
]
seriesC = [
    r_df(C_mexicali_noisy, C_mexicali_tail_logT, C_mexicali_tail, "Chile/Mexicali"),
    r_df(C_haiti_noisy, C_haiti_tail_logT, C_haiti_tail, "Chile/Haiti"),
    r_df(C_tohoku_noisy, C_tohoku_tail_logT, C_tohoku_tail, "Chile/Tohoku-Oki"),
]
chartB = ratio_panel("Vertical component", seriesB, B_panel_label, True, 506)
chartC = ratio_panel("Transverse component", seriesC, C_panel_label, False, 505)

BC = alt.hconcat(chartB, chartC, spacing=23, bounds="flush").resolve_scale(color="independent")

chart = alt.vconcat(rowA, BC, spacing=31).resolve_scale(color="independent").configure_view(
    stroke="#333", strokeWidth=1.2).properties(padding=0, background="white")

chart.save("out.html", embed_options={"renderer": "svg", "actions": False})
